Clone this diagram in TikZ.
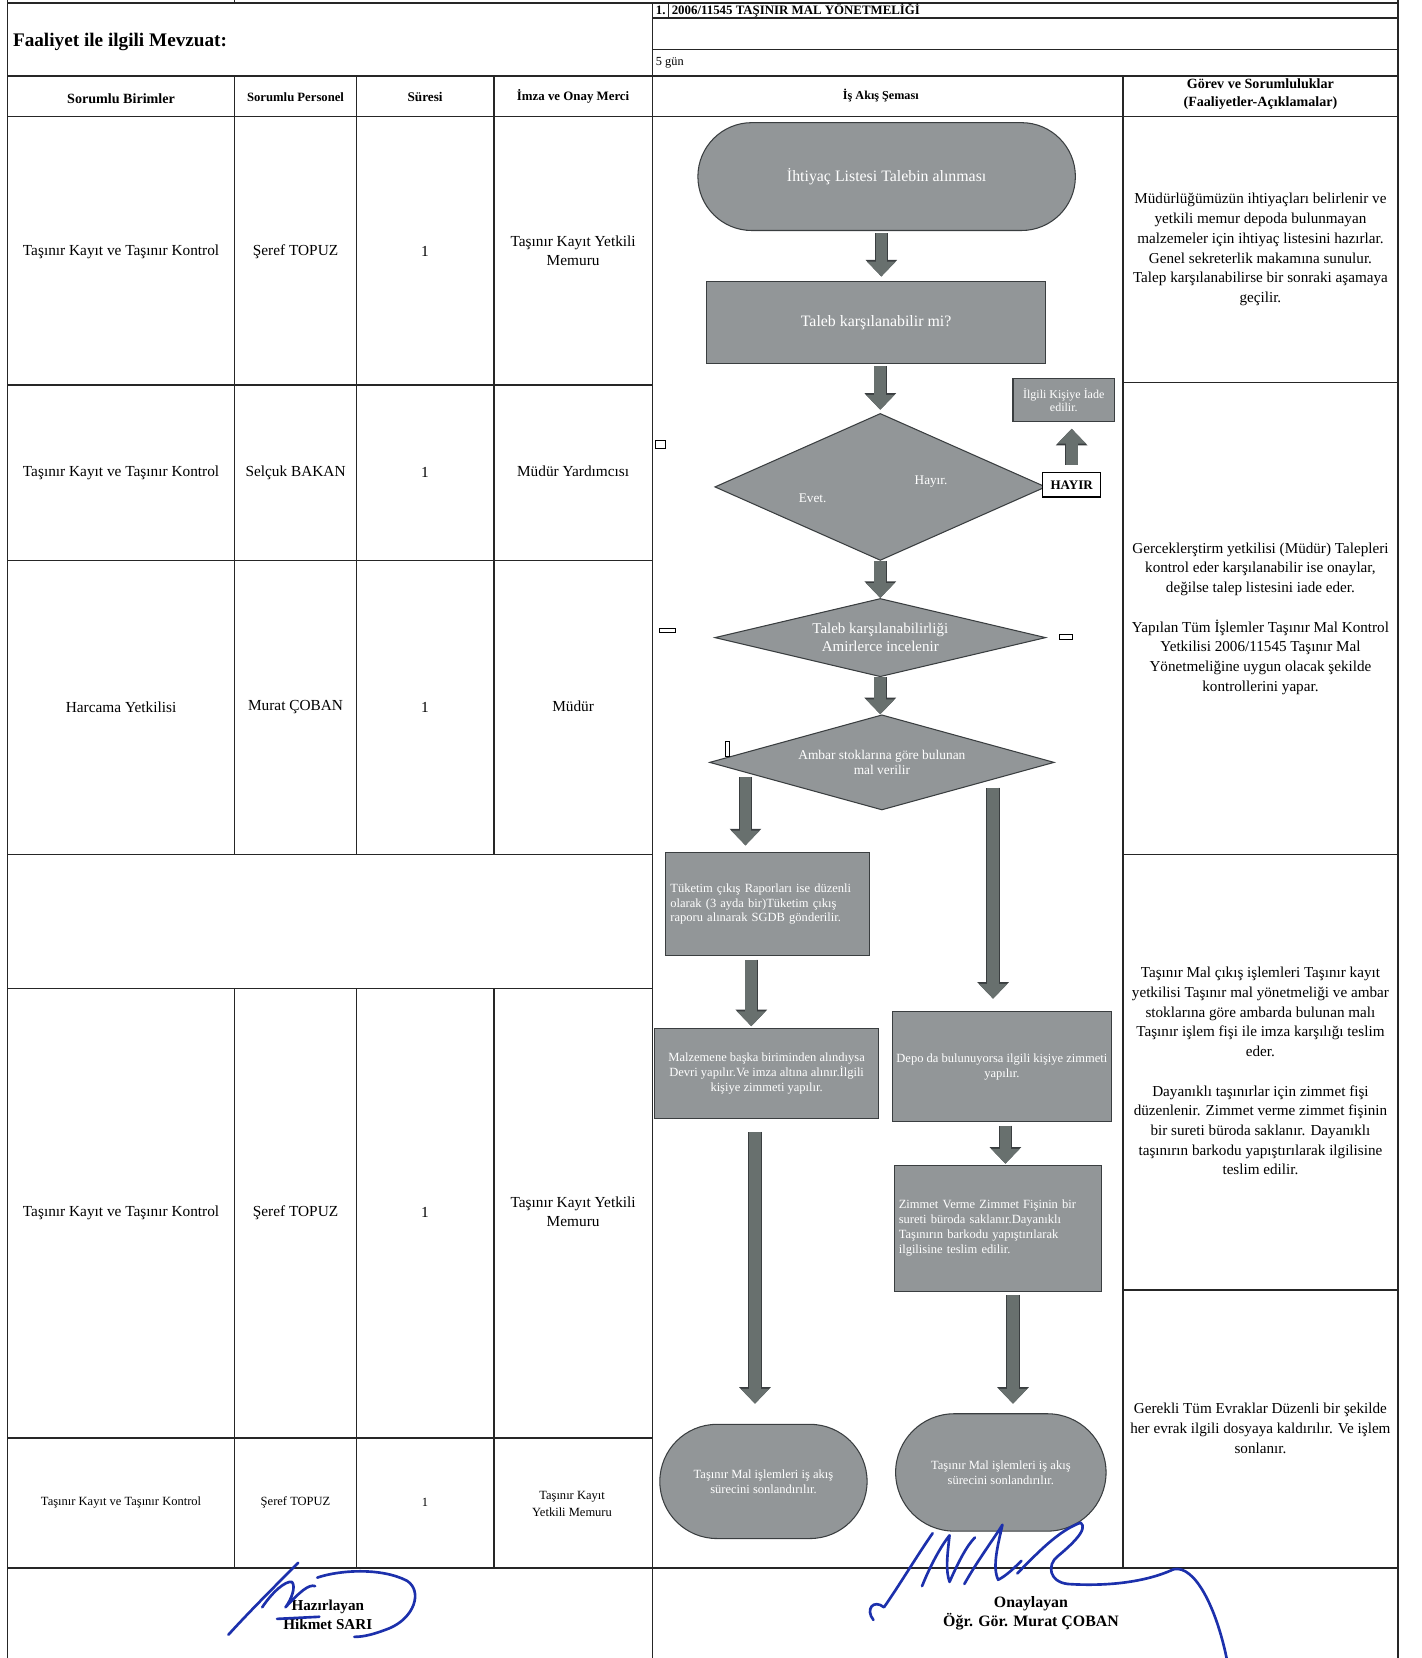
\documentclass[tikz,border=0pt]{standalone}
\usepackage{fontspec}
\setmainfont{Liberation Serif}
\usetikzlibrary{shapes.geometric,arrows.meta,calc}

\definecolor{shapegray}{RGB}{146,150,152}
\definecolor{arrowgray}{RGB}{104,112,110}
\definecolor{edgegray}{RGB}{58,62,64}
\definecolor{inkblue}{RGB}{28,48,172}
\newcommand{\pxl}{0.6pt}

\begin{document}
\begin{tikzpicture}[
x=0.6pt, y=-0.6pt,
grid/.style={line width=0.8pt, black!85},
cell/.style={font=\fontsize{8.7}{10.8}\selectfont, align=center, inner sep=0pt},
smallcell/.style={font=\fontsize{7.1}{9.6}\selectfont, align=center, inner sep=0pt},
head/.style={font=\bfseries\fontsize{7.5}{10.2}\selectfont, align=center, inner sep=0pt},
desc/.style={font=\fontsize{8.6}{11.2}\selectfont, align=center, inner sep=0pt},
box/.style={
    rectangle,
    draw=edgegray,
    line width=0.6pt,
    fill=shapegray,
    text=white,
    inner sep=0pt,
    align=center,
    font=\fontsize{7.1}{8.4}\selectfont
    },
dia/.style={
    diamond,
    draw=edgegray,
    line width=0.6pt,
    fill=shapegray,
    text=white,
    inner sep=0pt,
    align=center
    },
lbl/.style={text=white, inner sep=0pt, font=\fontsize{7.5}{9}\selectfont},
blk/.style={
    arrowgray,
    line width=6.6pt,
    -{Triangle[width=15.6pt,length=8.4pt]},
    preaction={draw=edgegray, line width=7.6pt, -{Triangle[width=17.4pt,length=9.4pt]}}
    },
sig/.style={inkblue, line width=1.5pt, line cap=round, line join=round},
]
\fill[white] (0,0) rectangle (1344,1568);
\useasboundingbox (0,0) rectangle (1344,1568);

% table lines
\draw[grid] (7,0) -- (7,1568);
\draw[grid] (1322,0) -- (1322,1568);
\draw[grid] (222,0) -- (222,3);
\draw[grid] (7,3) -- (1322,3);
\draw[grid] (617,17) -- (1322,17);
\draw[grid] (632,3) -- (632,17);
\draw[grid] (617,47) -- (1322,47);
\draw[grid] (7,72) -- (1322,72);
\draw[grid] (7,110) -- (1322,110);
\draw[grid] (7,1483) -- (1322,1483);
\draw[grid] (617,3) -- (617,1568);
\draw[grid] (1062,72) -- (1062,1483);
\foreach \yy in {364,530,808,935,1360} \draw[grid] (7,\yy) -- (617,\yy);
\foreach \yy in {362,808,1220} \draw[grid] (1062,\yy) -- (1322,\yy);
\foreach \xx in {222,337,467} {
    \draw[grid] (\xx,72) -- (\xx,808);
    \draw[grid] (\xx,935) -- (\xx,1483);
}

% header
\node[anchor=west, inner sep=0pt, font=\bfseries\fontsize{10.9}{13}\selectfont] (mevzuat) at (12,40) {Faaliyet ile ilgili Mevzuat:};
\node[anchor=west, inner sep=0pt, font=\bfseries\fontsize{7.3}{9}\selectfont] (sira) at (620,10) {1.};
\node[anchor=west, inner sep=0pt, font=\bfseries\fontsize{7.3}{9}\selectfont] (yonetmelik) at (635,10) {2006/11545 TAŞINIR MAL YÖNETMELİĞİ};
\node[anchor=west, inner sep=0pt, font=\fontsize{7}{9}\selectfont] (gun) at (620,59) {5 gün};

\node[head, font=\bfseries\fontsize{8}{10}\selectfont] (hbirim) at (114.5,93) {Sorumlu Birimler};
\node[head, font=\bfseries\fontsize{7.2}{10}\selectfont] (hpers) at (279.5,92) {Sorumlu Personel};
\node[head] (hsure) at (402,92) {Süresi};
\node[head, font=\bfseries\fontsize{7.3}{10}\selectfont] (hmerci) at (542,91) {İmza ve Onay Merci};
\node[head, font=\bfseries\fontsize{6.9}{10}\selectfont] (hsema) at (833,90) {İş Akış Şeması};
\node[head, font=\bfseries\fontsize{8}{10.2}\selectfont] (hgorev) at (1192,89) {Görev ve Sorumluluklar\\(Faaliyetler-Açıklamalar)};

% left rows
\node[cell] (birim1) at (114.5,238) {Taşınır Kayıt ve Taşınır Kontrol};
\node[cell] (pers1) at (279.5,238) {Şeref TOPUZ};
\node[cell] (sure1) at (402,238) {1};
\node[cell] (merci1) at (542,237) {Taşınır Kayıt Yetkili\\Memuru};

\node[cell] (birim2) at (114.5,447) {Taşınır Kayıt ve Taşınır Kontrol};
\node[cell] (pers2) at (279.5,447) {Selçuk BAKAN};
\node[cell] (sure2) at (402,447) {1};
\node[cell] (merci2) at (542,446) {Müdür Yardımcısı};

\node[cell] (birim3) at (114.5,669) {Harcama Yetkilisi};
\node[cell] (pers3) at (279.5,669) {Murat ÇOBAN};
\node[cell] (sure3) at (402,669) {1};
\node[cell] (merci3) at (542,668) {Müdür};

\node[cell] (birim4) at (114.5,1147) {Taşınır Kayıt ve Taşınır Kontrol};
\node[cell] (pers4) at (279.5,1147) {Şeref TOPUZ};
\node[cell] (sure4) at (402,1147) {1};
\node[cell] (merci4) at (542,1146) {Taşınır Kayıt Yetkili\\Memuru};

\node[smallcell] (birim5) at (114.5,1421) {Taşınır Kayıt ve Taşınır Kontrol};
\node[smallcell] (pers5) at (279.5,1421) {Şeref TOPUZ};
\node[smallcell] (sure5) at (402,1421) {1};
\node[smallcell] (merci5) at (541,1422) {Taşınır Kayıt\\Yetkili Memuru};

% right column
\node[desc] (gorev1) at (1192,236) {Müdürlüğümüzün ihtiyaçları belirlenir ve\\yetkili memur  depoda bulunmayan\\malzemeler için ihtiyaç listesini hazırlar.\\Genel sekreterlik makamına sunulur.\\Talep karşılanabilirse bir sonraki aşamaya\\geçilir.};
\node[desc] (gorev2) at (1192,585) {Gerceklerştirm yetkilisi (Müdür) Talepleri\\kontrol eder karşılanabilir ise onaylar,\\değilse talep listesini iade eder.\\[11.2pt]Yapılan Tüm İşlemler Taşınır Mal Kontrol\\Yetkilisi 2006/11545 Taşınır Mal\\Yönetmeliğine uygun olacak şekilde\\kontrollerini yapar.};
\node[desc] (gorev3) at (1192,1013) {Taşınır Mal çıkış işlemleri Taşınır kayıt\\yetkilisi Taşınır mal yönetmeliği ve ambar\\stoklarına göre ambarda bulunan malı\\Taşınır işlem fişi ile imza karşılığı teslim\\eder.\\[11.2pt]Dayanıklı taşınırlar için zimmet fişi\\düzenlenir. Zimmet verme zimmet fişinin\\bir sureti büroda saklanır. Dayanıklı\\taşınırın barkodu yapıştırılarak ilgilisine\\teslim edilir.};
\node[desc] (gorev4) at (1192,1351) {Gerekli Tüm Evraklar Düzenli bir şekilde\\her evrak ilgili dosyaya kaldırılır. Ve işlem\\sonlanır.};

% flow chart
\node[box, rounded corners=30.6pt, minimum width=357*\pxl, minimum height=102*\pxl, font=\fontsize{9}{11}\selectfont] (ihtiyac) at (838.5,167) {İhtiyaç Listesi Talebin alınması};
\node[box, minimum width=321*\pxl, minimum height=78*\pxl, font=\fontsize{9}{11}\selectfont] (taleb) at (828.5,305) {Taleb karşılanabilir mi?};
\node[box, minimum width=96*\pxl, minimum height=41*\pxl, font=\fontsize{6.8}{7.6}\selectfont] (iade) at (1006,378.5) {İlgili Kişiye İade\\edilir.};
\node[dia, minimum width=313*\pxl, minimum height=139*\pxl, aspect=2.25] (onay) at (832.5,460.5) {};
\node[lbl] (evet) at ($(onay)+(-64,11)$) {Evet.};
\node[lbl] (hayir) at ($(onay)+(48,-5)$) {Hayır.};
\node[draw, fill=white, line width=0.7pt, inner sep=0pt, minimum width=55*\pxl, minimum height=23*\pxl, font=\bfseries\fontsize{7.4}{9}\selectfont] (hayirbox) at (1013.5,458.5) {HAYIR};
\node[dia, minimum width=313*\pxl, minimum height=74*\pxl, aspect=4.2, font=\fontsize{8.5}{10.2}\selectfont] (amir) at (832.5,603) {Taleb karşılanabilirliği\\Amirlerce incelenir};
\node[dia, minimum width=326*\pxl, minimum height=90*\pxl, aspect=3.6, font=\fontsize{7.6}{8.6}\selectfont] (ambar) at (834,721) {Ambar stoklarına göre bulunan\\mal verilir};
\node[box, minimum width=193*\pxl, minimum height=98*\pxl, text width=183*\pxl, align=left] (tuketim) at (725.5,855) {Tüketim çıkış Raporları  ise düzenli\\olarak (3 ayda bir)Tüketim çıkış\\raporu alınarak SGDB gönderilir.};
\node[box, minimum width=212*\pxl, minimum height=85*\pxl] (malzeme) at (725,1015.5) {Malzemene başka biriminden alındıysa\\Devri yapılır.Ve imza altına alınır.İlgili\\kişiye zimmeti yapılır.};
\node[box, minimum width=207*\pxl, minimum height=104*\pxl] (depo) at (947.5,1009) {Depo da bulunuyorsa ilgili kişiye zimmeti\\yapılır.};
\node[box, minimum width=196*\pxl, minimum height=119*\pxl, text width=188*\pxl, align=left] (zimmet) at (944,1161.5) {Zimmet Verme Zimmet Fişinin bir\\sureti büroda saklanır.Dayanıklı\\Taşınırın barkodu yapıştırılarak\\ilgilisine teslim edilir.};
\node[box, rounded corners=32.4pt, minimum width=196*\pxl, minimum height=108*\pxl] (son1) at (722,1401) {Taşınır Mal işlemleri iş akış\\sürecini sonlandırılır.};
\node[box, rounded corners=33.3pt, minimum width=199*\pxl, minimum height=111*\pxl] (son2) at (946.5,1392.5) {Taşınır Mal işlemleri iş akış\\sürecini sonlandırılır.};

% block arrows
\draw[blk, shorten <=1.2pt, shorten >=2.4pt] ([xshift=-3pt]ihtiyac.south) -- ([xshift=-3pt]ihtiyac.south |- taleb.north);
\draw[blk, shorten <=1.2pt, shorten >=1.8pt] (onay.north |- taleb.south) -- (onay.north);
\draw[blk] (onay.south) -- (amir.north);
\draw[blk] (amir.south) -- (amir.south |- ambar.north);
\draw[blk, shorten <=4.2pt, shorten >=3.6pt] (hayirbox.north) -- (hayirbox.north |- iade.south);
\draw[blk] ([xshift=-12.3pt,yshift=42.6pt]tuketim.north) -- ([xshift=-12.3pt,yshift=3.6pt]tuketim.north);
\draw[blk] ([xshift=-5pt,yshift=127pt]depo.north) -- ([xshift=-5pt,yshift=7.2pt]depo.north);
\draw[blk, shorten <=1.8pt, shorten >=1.2pt] ([xshift=-9pt]tuketim.south) -- ([xshift=-9pt]tuketim.south |- malzeme.north);
\draw[blk, shorten <=1.8pt, shorten >=0.6pt] ([xshift=2pt]depo.south) -- ([xshift=2pt]depo.south |- zimmet.north);
\draw[blk, shorten <=7.2pt, shorten >=11.4pt] ([xshift=-6.6pt]malzeme.south) -- ([xshift=-6.6pt]malzeme.south |- son1.north);
\draw[blk, shorten <=1.8pt, shorten >=5.4pt] ([xshift=8.4pt]zimmet.south) -- ([xshift=8.4pt]zimmet.south |- son2.north);

% scan marks
\draw[line width=0.6pt] (620,417) rectangle (629,424);
\draw[line width=0.6pt] (624,594) rectangle (639,598);
\draw[line width=0.6pt] (1002,600) rectangle (1014,605);
\draw[line width=0.6pt] (686,701) rectangle (690,715);

% signatures
\node[align=center, inner sep=0pt, font=\bfseries\fontsize{8.6}{10.8}\selectfont] (hazirlayan) at (310,1527) {Hazırlayan\\Hikmet SARI};
\node[align=center, inner sep=0pt, font=\bfseries\fontsize{9}{10.8}\selectfont] (onaylayan) at (975,1526) {Onaylayan\\Öğr. Gör. Murat ÇOBAN};

\draw[sig] (216,1546) .. controls (235,1525) and (262,1498) .. (282,1478);
\draw[sig] (248,1520) .. controls (258,1505) and (270,1495) .. (276,1496) .. controls (280,1500) and (276,1512) .. (270,1520) .. controls (284,1505) and (292,1498) .. (298,1500);
\draw[sig] (300,1492) .. controls (320,1485) and (360,1482) .. (385,1495) .. controls (400,1505) and (392,1530) .. (368,1540) .. controls (355,1545) and (345,1548) .. (335,1548);
\draw[sig] (262,1531) -- (302,1529);
\draw[sig] (826,1532) .. controls (818,1522) and (826,1512) .. (836,1520) .. controls (850,1500) and (868,1470) .. (882,1450);
\draw[sig] (872,1500) .. controls (880,1480) and (890,1462) .. (898,1452) .. controls (896,1470) and (894,1485) .. (898,1496) .. controls (906,1478) and (914,1462) .. (922,1454);
\draw[sig] (912,1498) .. controls (925,1475) and (940,1455) .. (948,1442) .. controls (944,1460) and (938,1482) .. (944,1494) .. controls (952,1490) and (960,1482) .. (966,1476);
\draw[sig] (962,1488) .. controls (980,1470) and (1000,1448) .. (1022,1440) .. controls (1030,1446) and (1012,1462) .. (1000,1472) .. controls (990,1480) and (992,1496) .. (1010,1498) .. controls (1040,1500) and (1080,1498) .. (1110,1484);
\draw[sig] (1110,1484) .. controls (1130,1480) and (1150,1520) .. (1160,1568);
\end{tikzpicture}
\end{document}
